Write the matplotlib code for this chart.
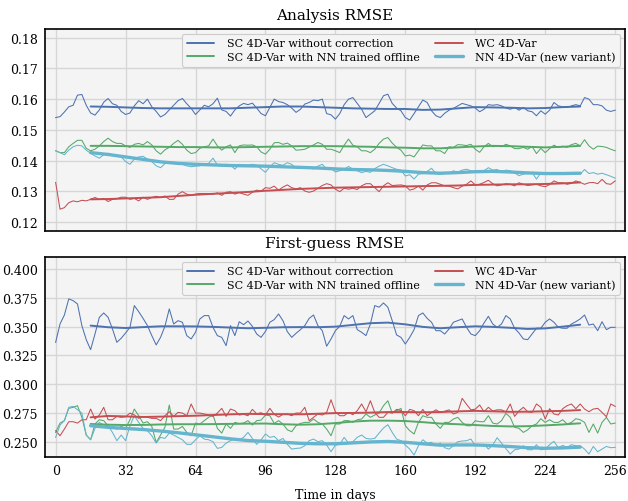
import numpy as np
import matplotlib
matplotlib.use("Agg")
import matplotlib.pyplot as plt
from matplotlib.ticker import FormatStrFormatter

plt.rcParams['font.family'] = ['DejaVu Serif']

DAYS = list(range(0, 257, 2))
SMOOTH_DAYS = list(range(16, 241, 8))
XTICKS = [0, 32, 64, 96, 128, 160, 192, 224, 256]

LABELS = ["SC 4D-Var without correction", "SC 4D-Var with NN trained offline",
          "WC 4D-Var", "NN 4D-Var (new variant)"]
COLORS = ["#4C72B0", "#55A868", "#C44E52", "#64B5CD"]

# ---------------- Analysis RMSE (noisy series) ----------------
A_SC = [0.1540,0.1543,0.1558,0.1575,0.1580,0.1613,0.1615,0.1580,0.1555,0.1548,0.1565,0.1590,0.1602,0.1585,0.1580,0.1560,0.1550,0.1555,0.1578,0.1595,0.1585,0.1600,0.1575,0.1560,0.1542,0.1550,0.1565,0.1580,0.1595,0.1602,0.1585,0.1570,0.1550,0.1565,0.1580,0.1575,0.1585,0.1603,0.1565,0.1560,0.1545,0.1565,0.1578,
        0.1586,0.1582,0.1587,0.1571,0.1553,0.1546,0.1573,0.1600,0.1592,0.1589,0.1582,0.1571,0.1557,0.1567,0.1584,0.1589,0.1597,0.1595,0.1600,0.1553,0.1549,0.1535,0.1553,0.1582,0.1600,0.1605,0.1586,0.1567,0.1540,0.1551,0.1562,0.1586,0.1611,0.1616,0.1586,0.1571,0.1562,0.1540,0.1532,0.1553,0.1575,0.1597,0.1589,0.1562,
        0.1546,0.1540,0.1554,0.1564,0.1570,0.1578,0.1586,0.1582,0.1578,0.1571,0.1559,0.1567,0.1582,0.1580,0.1582,0.1578,0.1571,0.1567,0.1573,0.1564,0.1573,0.1562,0.1559,0.1546,0.1562,0.1551,0.1564,0.1589,0.1578,0.1575,0.1573,0.1578,0.1582,0.1578,0.1605,0.1600,0.1582,0.1582,0.1578,0.1564,0.1560,0.1564]
A_NNOFF = [0.1432,0.1426,0.1426,0.1445,0.1456,0.1466,0.1466,0.1440,0.1432,0.1437,0.1448,0.1462,0.1473,0.1462,0.1456,0.1456,0.1448,0.1443,0.1453,0.1456,0.1451,0.1462,0.1451,0.1432,0.1421,0.1435,0.1443,0.1456,0.1466,0.1453,0.1434,0.1423,0.1426,0.1440,0.1445,0.1448,0.1470,0.1448,0.1434,0.1445,0.1451,0.1426,0.1448,
           0.1451,0.1450,0.1451,0.1445,0.1428,0.1421,0.1437,0.1458,0.1459,0.1453,0.1457,0.1448,0.1434,0.1435,0.1437,0.1444,0.1451,0.1459,0.1453,0.1437,0.1437,0.1432,0.1426,0.1450,0.1470,0.1450,0.1445,0.1432,0.1432,0.1426,0.1437,0.1456,0.1470,0.1475,0.1457,0.1443,0.1434,0.1415,0.1418,0.1412,0.1432,0.1451,0.1448,0.1448,
           0.1432,0.1432,0.1423,0.1445,0.1443,0.1452,0.1451,0.1449,0.1453,0.1437,0.1427,0.1445,0.1456,0.1445,0.1448,0.1445,0.1453,0.1448,0.1439,0.1439,0.1443,0.1437,0.1446,0.1423,0.1440,0.1426,0.1439,0.1450,0.1443,0.1447,0.1443,0.1452,0.1456,0.1448,0.1468,0.1448,0.1437,0.1447,0.1446,0.1443,0.1437,0.1432]
A_WC = [0.1329,0.1242,0.1247,0.1263,0.1269,0.1266,0.1271,0.1269,0.1274,0.1280,0.1274,0.1277,0.1267,0.1274,0.1276,0.1281,0.1281,0.1274,0.1277,0.1269,0.1281,0.1274,0.1280,0.1284,0.1280,0.1285,0.1274,0.1274,0.1291,0.1299,0.1291,0.1287,0.1291,0.1293,0.1293,0.1293,0.1291,0.1295,0.1287,0.1297,0.1299,0.1291,0.1296,
        0.1291,0.1287,0.1297,0.1304,0.1301,0.1312,0.1310,0.1317,0.1304,0.1314,0.1321,0.1312,0.1308,0.1312,0.1301,0.1297,0.1301,0.1310,0.1319,0.1325,0.1321,0.1307,0.1299,0.1310,0.1307,0.1310,0.1306,0.1318,0.1325,0.1325,0.1312,0.1299,0.1318,0.1328,0.1319,0.1320,0.1321,0.1318,0.1304,0.1308,0.1317,0.1304,0.1321,0.1328,
        0.1328,0.1323,0.1318,0.1317,0.1312,0.1308,0.1317,0.1323,0.1334,0.1321,0.1323,0.1329,0.1336,0.1325,0.1318,0.1321,0.1325,0.1323,0.1318,0.1328,0.1323,0.1319,0.1321,0.1323,0.1318,0.1315,0.1322,0.1334,0.1328,0.1328,0.1323,0.1326,0.1334,0.1329,0.1323,0.1328,0.1329,0.1325,0.1339,0.1325,0.1323,0.1334]
A_NN = [0.1432,0.1426,0.1419,0.1434,0.1445,0.1450,0.1448,0.1434,0.1424,0.1415,0.1408,0.1419,0.1424,0.1419,0.1415,0.1412,0.1397,0.1388,0.1405,0.1412,0.1414,0.1405,0.1397,0.1383,0.1377,0.1390,0.1397,0.1393,0.1390,0.1388,0.1383,0.1380,0.1382,0.1383,0.1388,0.1391,0.1408,0.1386,0.1383,0.1388,0.1386,0.1372,0.1388,
        0.1386,0.1385,0.1388,0.1385,0.1373,0.1362,0.1380,0.1393,0.1388,0.1385,0.1393,0.1388,0.1375,0.1380,0.1377,0.1377,0.1373,0.1382,0.1388,0.1372,0.1375,0.1363,0.1367,0.1372,0.1381,0.1372,0.1367,0.1361,0.1365,0.1362,0.1374,0.1382,0.1388,0.1383,0.1377,0.1372,0.1369,0.1350,0.1354,0.1340,0.1356,0.1358,0.1365,0.1375,
        0.1358,0.1356,0.1360,0.1358,0.1367,0.1362,0.1369,0.1372,0.1367,0.1363,0.1361,0.1367,0.1377,0.1369,0.1371,0.1363,0.1369,0.1367,0.1360,0.1351,0.1356,0.1358,0.1361,0.1340,0.1360,0.1356,0.1361,0.1358,0.1356,0.1361,0.1356,0.1360,0.1361,0.1356,0.1371,0.1358,0.1361,0.1356,0.1359,0.1354,0.1349,0.1343]

# Analysis RMSE running means
AS_SC = [0.1576,0.1575,0.1573,0.1571,0.1570,0.1570,0.1570,0.1570,0.1570,0.1572,0.1574,0.1576,0.1576,0.1574,0.1572,0.1570,0.1569,0.1568,0.1568,0.1565,0.1566,0.1570,0.1574,0.1573,0.1572,0.1570,0.1571,0.1574,0.1576]
AS_NNOFF = [0.1448,0.1448,0.1447,0.1446,0.1445,0.1444,0.1444,0.1443,0.1443,0.1444,0.1445,0.1446,0.1447,0.1447,0.1447,0.1446,0.1445,0.1443,0.1442,0.1440,0.1440,0.1443,0.1446,0.1448,0.1447,0.1445,0.1443,0.1445,0.1448]
AS_WC = [0.1274,0.1275,0.1277,0.1279,0.1281,0.1285,0.1289,0.1292,0.1295,0.1298,0.1302,0.1305,0.1308,0.1310,0.1312,0.1313,0.1314,0.1315,0.1316,0.1317,0.1318,0.1319,0.1321,0.1322,0.1323,0.1323,0.1324,0.1326,0.1329]
AS_NN = [0.1426,0.1420,0.1412,0.1404,0.1396,0.1391,0.1388,0.1386,0.1384,0.1383,0.1382,0.1380,0.1378,0.1376,0.1373,0.1371,0.1370,0.1368,0.1365,0.1361,0.1359,0.1361,0.1364,0.1365,0.1363,0.1360,0.1358,0.1358,0.1359]

# ---------------- First-guess RMSE (noisy series) ----------------
F_SC = [0.3364,0.3523,0.3601,0.3741,0.3726,0.3697,0.3509,0.3387,0.3300,0.3436,0.3581,0.3619,0.3581,0.3480,0.3364,0.3399,0.3445,0.3494,0.3683,0.3630,0.3572,0.3509,0.3422,0.3341,0.3407,0.3503,0.3654,0.3523,0.3552,0.3538,0.3422,0.3393,0.3451,0.3567,0.3596,0.3596,0.3494,0.3422,0.3407,0.3335,0.3509,0.3422,0.3543,
        0.3517,0.3549,0.3503,0.3436,0.3407,0.3459,0.3538,0.3561,0.3610,0.3552,0.3457,0.3407,0.3442,0.3474,0.3509,0.3572,0.3601,0.3509,0.3465,0.3330,0.3393,0.3465,0.3503,0.3596,0.3567,0.3596,0.3474,0.3451,0.3422,0.3523,0.3683,0.3669,0.3706,0.3669,0.3552,0.3428,0.3407,0.3349,0.3407,0.3474,0.3596,0.3619,0.3572,0.3538,
        0.3465,0.3465,0.3436,0.3480,0.3538,0.3552,0.3567,0.3494,0.3436,0.3422,0.3465,0.3532,0.3590,0.3523,0.3494,0.3523,0.3596,0.3567,0.3486,0.3445,0.3393,0.3387,0.3436,0.3486,0.3486,0.3538,0.3567,0.3538,0.3494,0.3486,0.3486,0.3523,0.3543,0.3567,0.3601,0.3514,0.3523,0.3465,0.3543,0.3474,0.3494,0.3494]
F_NNOFF = [0.2581,0.2662,0.2683,0.2790,0.2799,0.2813,0.2712,0.2558,0.2517,0.2654,0.2691,0.2683,0.2639,0.2625,0.2610,0.2633,0.2616,0.2691,0.2784,0.2726,0.2662,0.2674,0.2633,0.2494,0.2558,0.2625,0.2819,0.2610,0.2610,0.2633,0.2581,0.2552,0.2662,0.2654,0.2683,0.2712,0.2732,0.2616,0.2575,0.2654,0.2616,0.2668,0.2657,
           0.2662,0.2683,0.2645,0.2683,0.2688,0.2732,0.2726,0.2659,0.2683,0.2654,0.2604,0.2587,0.2639,0.2659,0.2668,0.2668,0.2697,0.2668,0.2654,0.2610,0.2552,0.2654,0.2654,0.2683,0.2683,0.2668,0.2691,0.2697,0.2741,0.2712,0.2732,0.2749,0.2813,0.2856,0.2749,0.2770,0.2790,0.2639,0.2596,0.2567,0.2668,0.2726,0.2712,0.2712,
           0.2654,0.2616,0.2668,0.2668,0.2697,0.2712,0.2668,0.2639,0.2639,0.2683,0.2674,0.2674,0.2726,0.2662,0.2654,0.2683,0.2746,0.2712,0.2625,0.2616,0.2581,0.2604,0.2639,0.2654,0.2700,0.2668,0.2691,0.2668,0.2668,0.2691,0.2654,0.2668,0.2700,0.2691,0.2668,0.2581,0.2654,0.2575,0.2668,0.2712,0.2654,0.2662]
F_WC = [0.2596,0.2552,0.2610,0.2674,0.2674,0.2662,0.2691,0.2691,0.2784,0.2697,0.2732,0.2799,0.2691,0.2691,0.2720,0.2712,0.2717,0.2749,0.2732,0.2703,0.2720,0.2712,0.2703,0.2703,0.2683,0.2726,0.2761,0.2720,0.2755,0.2749,0.2726,0.2828,0.2749,0.2749,0.2741,0.2732,0.2720,0.2749,0.2790,0.2720,0.2784,0.2770,0.2732,
        0.2738,0.2726,0.2781,0.2743,0.2752,0.2732,0.2790,0.2738,0.2714,0.2738,0.2741,0.2726,0.2749,0.2749,0.2799,0.2683,0.2712,0.2741,0.2732,0.2755,0.2865,0.2758,0.2726,0.2726,0.2755,0.2735,0.2770,0.2828,0.2761,0.2856,0.2755,0.2712,0.2712,0.2755,0.2749,0.2781,0.2770,0.2726,0.2781,0.2770,0.2726,0.2781,0.2726,0.2755,
        0.2777,0.2755,0.2765,0.2777,0.2741,0.2755,0.2877,0.2825,0.2777,0.2783,0.2819,0.2761,0.2799,0.2767,0.2777,0.2777,0.2759,0.2828,0.2720,0.2768,0.2799,0.2761,0.2755,0.2828,0.2799,0.2697,0.2787,0.2741,0.2732,0.2787,0.2813,0.2828,0.2787,0.2828,0.2784,0.2761,0.2784,0.2790,0.2755,0.2717,0.2828,0.2807]
F_NN = [0.2538,0.2645,0.2683,0.2799,0.2807,0.2778,0.2749,0.2558,0.2517,0.2616,0.2668,0.2645,0.2639,0.2581,0.2509,0.2558,0.2509,0.2639,0.2726,0.2668,0.2616,0.2596,0.2552,0.2488,0.2538,0.2529,0.2575,0.2558,0.2538,0.2517,0.2477,0.2477,0.2517,0.2552,0.2523,0.2517,0.2500,0.2442,0.2451,0.2488,0.2509,0.2523,0.2517,
        0.2538,0.2581,0.2529,0.2477,0.2517,0.2567,0.2538,0.2546,0.2509,0.2529,0.2477,0.2436,0.2442,0.2445,0.2465,0.2509,0.2523,0.2500,0.2509,0.2471,0.2413,0.2471,0.2477,0.2538,0.2488,0.2500,0.2538,0.2558,0.2529,0.2523,0.2529,0.2575,0.2619,0.2648,0.2581,0.2523,0.2509,0.2471,0.2436,0.2384,0.2465,0.2517,0.2488,0.2494,
        0.2465,0.2488,0.2448,0.2436,0.2465,0.2500,0.2506,0.2509,0.2523,0.2465,0.2471,0.2477,0.2436,0.2471,0.2535,0.2488,0.2442,0.2393,0.2430,0.2436,0.2465,0.2430,0.2430,0.2474,0.2430,0.2436,0.2474,0.2503,0.2448,0.2468,0.2451,0.2474,0.2465,0.2465,0.2436,0.2393,0.2459,0.2413,0.2436,0.2459,0.2448,0.2451]

# First-guess RMSE running means
FS_SC = [0.3509,0.3495,0.3488,0.3496,0.3503,0.3503,0.3502,0.3498,0.3492,0.3486,0.3490,0.3495,0.3496,0.3495,0.3500,0.3515,0.3530,0.3535,0.3520,0.3498,0.3486,0.3495,0.3503,0.3498,0.3490,0.3480,0.3485,0.3500,0.3517]
FS_NNOFF = [0.2654,0.2648,0.2645,0.2646,0.2650,0.2652,0.2652,0.2653,0.2655,0.2657,0.2658,0.2652,0.2648,0.2652,0.2662,0.2675,0.2683,0.2683,0.2680,0.2670,0.2658,0.2652,0.2645,0.2637,0.2633,0.2635,0.2642,0.2650,0.2660]
FS_WC = [0.2712,0.2724,0.2720,0.2715,0.2718,0.2722,0.2726,0.2732,0.2738,0.2742,0.2740,0.2739,0.2738,0.2743,0.2749,0.2750,0.2753,0.2758,0.2758,0.2756,0.2758,0.2764,0.2768,0.2764,0.2760,0.2761,0.2765,0.2768,0.2775]
FS_NN = [0.2639,0.2625,0.2615,0.2606,0.2593,0.2578,0.2560,0.2543,0.2525,0.2510,0.2504,0.2495,0.2486,0.2482,0.2482,0.2490,0.2498,0.2502,0.2495,0.2482,0.2470,0.2472,0.2472,0.2466,0.2458,0.2448,0.2443,0.2446,0.2453]

BG = "#f4f4f4"
GRID = "#d6d6d6"

fig = plt.figure(figsize=(6.28, 5.02), dpi=100)
ax1 = fig.add_axes([0.0712, 0.5378, 0.9240, 0.4024])
ax2 = fig.add_axes([0.0712, 0.0876, 0.9240, 0.3984])


def draw(ax, noisy, smooth, title):
    ax.set_facecolor(BG)
    for vals, col in zip(noisy, COLORS):
        ax.plot(DAYS[:len(vals)], vals, color=col, lw=0.75, zorder=2)
    handles = []
    for i, (vals, col) in enumerate(zip(smooth, COLORS)):
        lw = 2.4 if i == 3 else 1.4
        h, = ax.plot(SMOOTH_DAYS[:len(vals)], vals, color=col, lw=lw, zorder=3,
                     solid_capstyle='round')
        handles.append(h)
    ax.set_title(title, fontsize=11, pad=7)
    ax.grid(True, color=GRID, lw=1.0, zorder=0)
    ax.set_axisbelow(True)
    for s in ax.spines.values():
        s.set_color('black')
        s.set_linewidth(1.2)
    ax.set_xlim(-5, 260.5)
    ax.set_xticks(XTICKS)
    ax.tick_params(length=0, labelsize=9, pad=5)
    leg = ax.legend(handles, LABELS, loc='upper right', ncol=2, fontsize=8,
                    frameon=True, facecolor=BG, edgecolor='#cccccc', framealpha=1.0,
                    handlelength=2.5, handletextpad=1.1, columnspacing=1.4,
                    labelspacing=0.3, borderaxespad=0.45)
    leg.get_frame().set_linewidth(0.8)
    return ax


draw(ax1, [A_SC, A_NNOFF, A_WC, A_NN], [AS_SC, AS_NNOFF, AS_WC, AS_NN], "Analysis RMSE")
ax1.set_ylim(0.1171, 0.1828)
ax1.set_yticks([0.12, 0.13, 0.14, 0.15, 0.16, 0.17, 0.18])
ax1.yaxis.set_major_formatter(FormatStrFormatter('%.2f'))
ax1.set_xticklabels([])

draw(ax2, [F_SC, F_NNOFF, F_WC, F_NN], [FS_SC, FS_NNOFF, FS_WC, FS_NN], "First-guess RMSE")
ax2.set_ylim(0.2367, 0.4105)
ax2.set_yticks([0.250, 0.275, 0.300, 0.325, 0.350, 0.375, 0.400])
ax2.yaxis.set_major_formatter(FormatStrFormatter('%.3f'))
ax2.set_xlabel("Time in days", fontsize=9, labelpad=8)

fig.savefig("out.png", dpi=100)
